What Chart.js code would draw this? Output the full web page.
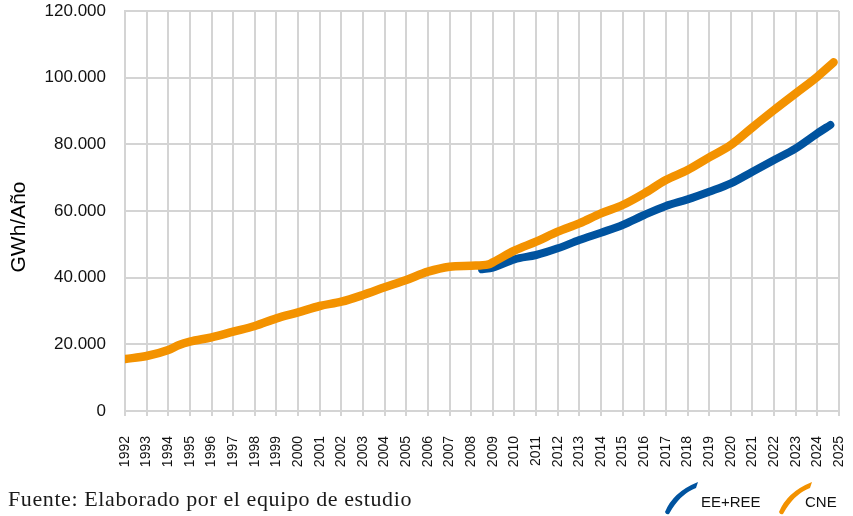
<!DOCTYPE html>
<html>
<head>
<meta charset="utf-8">
<script src="https://cdn.jsdelivr.net/npm/chart.js@4/dist/chart.umd.min.js"></script>
<style>
  body { margin: 0; background: #fff; }
  #box { width: 853px; height: 516px; }
</style>
</head>
<body>
<div id="box"><canvas id="myChart" width="853" height="516"></canvas></div>
<script>
// years on the axis
const axisYears = [];
for (let y = 1992; y <= 2025; y++) axisYears.push(y);

const yTicks = [0, 20000, 40000, 60000, 80000, 100000, 120000];

// CNE series (orange)
const cneYears = [1992, 1993, 1994, 1994.5, 1995, 1996, 1997, 1998, 1999, 2000, 2001, 2002, 2003, 2004, 2005, 2006, 2007, 2008, 2008.8,
  2009, 2010, 2011, 2012, 2013, 2014, 2015, 2016, 2017, 2018, 2019, 2020, 2021, 2022, 2023, 2024, 2024.75];
const cneValues = [15600, 16500, 18300, 19800, 20800, 22100, 23800, 25500, 27800, 29600, 31500, 32800, 34800, 37100, 39300, 41800, 43300, 43600, 44000,
  44600, 48100, 50800, 53800, 56300, 59300, 61800, 65300, 69300, 72300, 76100, 79800, 85100, 90300, 95300, 100300, 104600];

// EE+REE series (blue)
const reeYears = [2008.5, 2009, 2010, 2011, 2012, 2013, 2014, 2015, 2016, 2017, 2018, 2019, 2020, 2021, 2022, 2023, 2024, 2024.6];
const reeValues = [42500, 43000, 45500, 46800, 48800, 51300, 53500, 55800, 58800, 61500, 63500, 65800, 68300, 71800, 75300, 78800, 83300, 85800];

const orange = "#f39200";
const blue = "#00539f";
const gridColor = "#d4d4d4";

const toPoints = (xs, ys) => xs.map((x, i) => ({ x: x, y: ys[i] }));

const fmtThousands = v => String(v).replace(/\B(?=(\d{3})+(?!\d))/g, ".");

// no automatic label overflow padding, the layout padding decides the plot box
const noPad = scale => {
  scale.paddingTop = 0;
  scale.paddingBottom = 0;
  scale.paddingLeft = 0;
  scale.paddingRight = 0;
};

// extra texts: axis title, legend swooshes, source line
const extras = {
  id: "extras",
  afterDraw(chart) {
    const ctx = chart.ctx;
    ctx.save();
    // y title
    ctx.translate(19, 227);
    ctx.rotate(-Math.PI / 2);
    ctx.font = "21px 'Liberation Sans', Arial, sans-serif";
    ctx.fillStyle = "#000";
    ctx.textAlign = "center";
    ctx.textBaseline = "middle";
    ctx.fillText("GWh/Año", 0, 0);
    ctx.restore();

    // legend brush marks
    const swoosh = (x0, color) => {
      ctx.save();
      ctx.fillStyle = color;
      ctx.beginPath();
      ctx.moveTo(x0 - 2, 512);
      ctx.quadraticCurveTo(x0 + 6, 492, x0 + 31, 482);
      ctx.lineTo(x0 + 29, 488);
      ctx.quadraticCurveTo(x0 + 13, 494, x0 + 2, 514);
      ctx.quadraticCurveTo(x0 - 1, 515, x0 - 2, 512);
      ctx.closePath();
      ctx.fill();
      ctx.restore();
    };
    swoosh(667, blue);
    swoosh(781, orange);
    ctx.save();
    ctx.font = "15px 'Liberation Sans Narrow', 'Liberation Sans', Arial, sans-serif";
    ctx.fillStyle = "#111";
    ctx.textBaseline = "alphabetic";
    ctx.fillText("EE+REE", 701, 507);
    ctx.fillText("CNE", 805, 507);
    ctx.restore();

    // source
    ctx.save();
    ctx.font = "22px 'Liberation Serif', 'Times New Roman', serif";
    ctx.letterSpacing = "0.6px";
    ctx.fillStyle = "#1a1a1a";
    ctx.fillText("Fuente: Elaborado por el equipo de estudio", 8, 506);
    ctx.restore();
  }
};

Chart.defaults.font.family = "'Liberation Sans', Arial, sans-serif";
Chart.defaults.color = "#111";

new Chart(document.getElementById("myChart"), {
  type: "line",
  data: {
    datasets: [
      {
        label: "CNE",
        data: toPoints(cneYears, cneValues),
        borderColor: orange,
        backgroundColor: orange,
        borderWidth: 8.5,
        borderCapStyle: "round",
        borderJoinStyle: "round",
        cubicInterpolationMode: "monotone",
        pointRadius: 0,
        order: 0
      },
      {
        label: "EE+REE",
        data: toPoints(reeYears, reeValues),
        borderColor: blue,
        backgroundColor: blue,
        borderWidth: 8,
        borderCapStyle: "round",
        borderJoinStyle: "round",
        cubicInterpolationMode: "monotone",
        pointRadius: 0,
        order: 1
      }
    ]
  },
  options: {
    responsive: false,
    animation: false,
    layout: { autoPadding: false, padding: { left: 0, right: 14, top: 11, bottom: 0 } },
    plugins: { legend: { display: false }, tooltip: { enabled: false } },
    scales: {
      x: {
        type: "linear",
        min: axisYears[0],
        max: axisYears[axisYears.length - 1],
        afterBuildTicks: scale => { scale.ticks = axisYears.map(v => ({ value: v })); },
        afterFit: scale => { scale.height = 105; noPad(scale); },
        grid: { color: gridColor, lineWidth: 2, tickLength: 5 },
        border: { color: gridColor, width: 2 },
        ticks: {
          autoSkip: false,
          minRotation: 90,
          maxRotation: 90,
          padding: 20,
          font: { size: 14 },
          color: "#111",
          callback: v => String(v)
        }
      },
      y: {
        min: 0,
        max: 120000,
        afterBuildTicks: scale => { scale.ticks = yTicks.map(v => ({ value: v })); },
        afterFit: scale => { scale.width = 125; noPad(scale); },
        grid: { color: gridColor, lineWidth: 2, drawTicks: false },
        border: { color: gridColor, width: 2 },
        ticks: {
          padding: 19,
          font: { size: 17 },
          color: "#111",
          callback: v => fmtThousands(v)
        }
      }
    }
  },
  plugins: [extras]
});
</script>
</body>
</html>
